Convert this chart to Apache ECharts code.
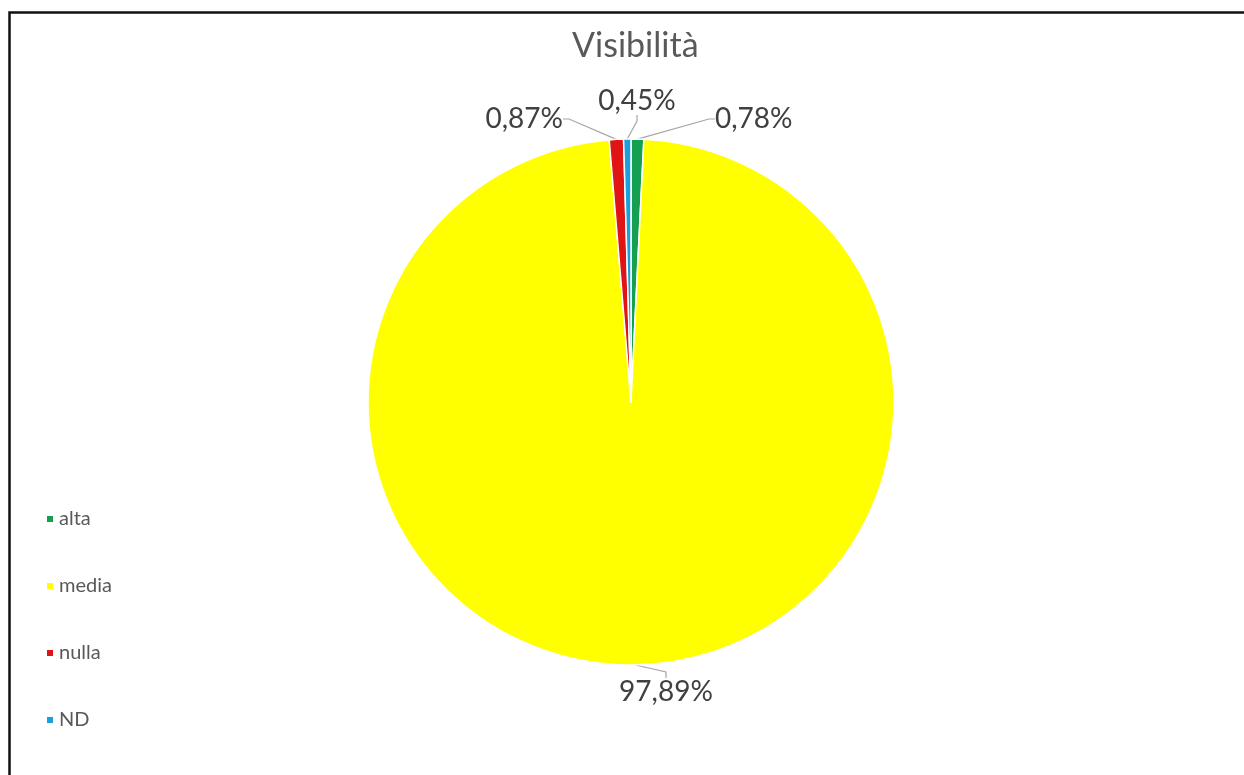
<!DOCTYPE html>
<html>
<head>
<meta charset="utf-8">
<script src="https://cdn.jsdelivr.net/npm/echarts@6/dist/echarts.min.js"></script>
<style>
html,body{margin:0;padding:0;background:#fff;overflow:hidden;}
#main{width:1244px;height:775px;}
</style>
</head>
<body>
<div id="main"></div>
<script>
const titleText = 'Visibilità';
const categories = ['alta', 'media', 'nulla', 'ND'];
const values = [0.78, 97.89, 0.87, 0.45];
const colors = ['#14A050', '#FFFF00', '#E01414', '#1CA0DC'];

const CX = 631, CY = 402, R = 263;
const FONT = 'Lato, "Open Sans", sans-serif';

function fmt(v) { return v.toFixed(2).replace('.', ',') + '%'; }

const chart = echarts.init(document.getElementById('main'), null, {renderer: 'canvas'});

// label anchor placement relative to pie center
const labelPlace = [
  {x: CX + 84, y: CY - R - 20, align: 'left', verticalAlign: 'middle'},
  {x: CX, y: CY + R + 13, align: 'center', verticalAlign: 'top'},
  {x: CX - 68, y: CY - R - 20, align: 'right', verticalAlign: 'middle'},
  {x: CX + 6, y: CY - R - 24, align: 'center', verticalAlign: 'bottom'}
];

const option = {
  backgroundColor: '#fff',
  animation: false,
  title: {
    text: titleText,
    left: 567,
    top: 24,
    textStyle: {fontFamily: FONT, fontSize: 34, fontWeight: 'normal', color: '#595959'}
  },
  legend: {
    orient: 'vertical',
    left: 40,
    top: 502,
    icon: 'rect',
    itemWidth: 8,
    itemHeight: 8,
    itemGap: 43,
    data: categories,
    textStyle: {fontFamily: FONT, fontSize: 20, color: '#595959', lineHeight: 24}
  },
  graphic: [{
    type: 'rect',
    shape: {x: 9.5, y: 12.5, width: 1400, height: 900},
    style: {fill: 'none', stroke: '#111', lineWidth: 2.5},
    silent: true
  }],
  series: [{
    type: 'pie',
    center: [CX, CY],
    radius: R,
    startAngle: 90,
    clockwise: true,
    avoidLabelOverlap: false,
    itemStyle: {borderColor: '#fff', borderWidth: 1.5},
    label: {
      show: true,
      formatter: p => fmt(p.value),
      fontFamily: FONT,
      fontSize: 28,
      color: '#404040'
    },
    labelLine: {show: true, length: 15, length2: 6, lineStyle: {color: '#a6a6a6', width: 1.2}},
    labelLayout: function (params) {
      const p = labelPlace[params.dataIndex];
      return {x: p.x, y: p.y, align: p.align, verticalAlign: p.verticalAlign};
    },
    data: categories.map((c, i) => ({
      name: c,
      value: values[i],
      itemStyle: {color: colors[i]},
      label: i === 1 ? {padding: [0, 0, 0, 70]} : undefined
    }))
  }]
};
chart.setOption(option);
</script>
</body>
</html>
